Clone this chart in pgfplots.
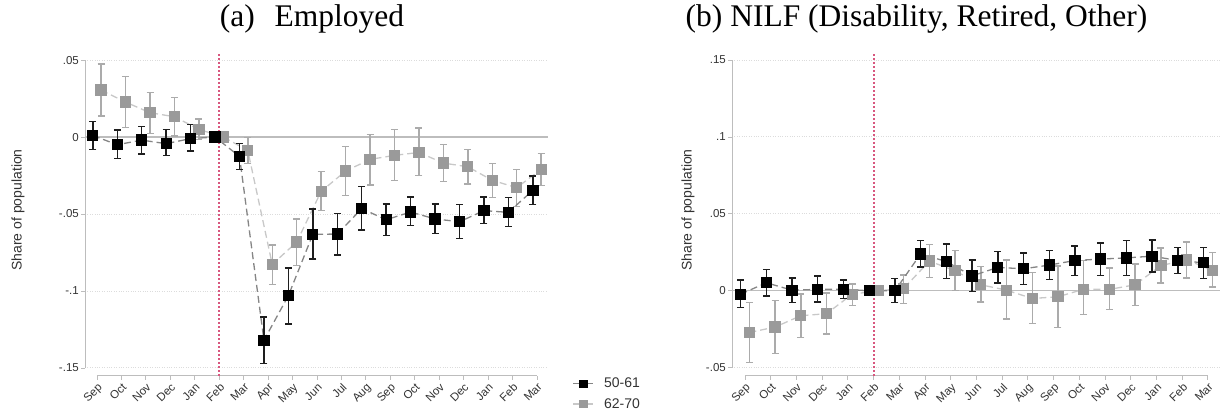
\documentclass[border=0pt]{standalone}
\usepackage{pgfplots}
\pgfplotsset{compat=1.18}
\usepackage{pgfplotstable}
\usepackage{fontspec}
\setmainfont{Liberation Sans}
\newfontfamily\titlefont{Liberation Serif}
\definecolor{blkline}{HTML}{858585}
\definecolor{blkerr}{HTML}{1E1E1E}
\definecolor{grymark}{HTML}{9A9A9A}
\definecolor{gryline}{HTML}{C8C8C8}
\definecolor{gryerr}{HTML}{ABABAB}
\definecolor{axgray}{HTML}{BDBDBD}
\definecolor{gridgray}{HTML}{DCDCDC}
\definecolor{redline}{HTML}{D8577F}
\definecolor{txt}{HTML}{333333}
\tikzset{febline/.style={redline, line width=2pt, dash pattern=on 2pt off 2pt}}

% x y hi lo
\pgfplotstableread{
x y hi lo
0 0.001 0.010 -0.008
1 -0.005 0.0045 -0.014
2 -0.002 0.007 -0.011
3 -0.0043 0.005 -0.012
4 -0.001 0.008 -0.009
5 0 0 0
6 -0.0126 -0.004 -0.021
7 -0.132 -0.117 -0.147
8 -0.103 -0.085 -0.1214
9 -0.0632 -0.0468 -0.0792
10 -0.063 -0.0496 -0.0766
11 -0.0465 -0.0323 -0.0604
12 -0.0537 -0.0435 -0.0639
13 -0.0487 -0.039 -0.0576
14 -0.0532 -0.0435 -0.0628
15 -0.055 -0.044 -0.066
16 -0.0478 -0.039 -0.056
17 -0.0489 -0.0394 -0.058
18 -0.0346 -0.0253 -0.0439
}\empA
\pgfplotstableread{
x y hi lo
0 0.0305 0.0474 0.0136
1 0.0227 0.0392 0.0063
2 0.0158 0.029 0.0024
3 0.0132 0.0258 0.0006
4 0.005 0.0117 -0.0015
5 0 0 0
6 -0.0087 -0.0004 -0.0173
7 -0.0827 -0.07 -0.0959
8 -0.0682 -0.0532 -0.0833
9 -0.0353 -0.0225 -0.0476
10 -0.0221 -0.0061 -0.0381
11 -0.0145 0.0017 -0.0312
12 -0.0119 0.0048 -0.0284
13 -0.01 0.0058 -0.0251
14 -0.0169 -0.005 -0.029
15 -0.0193 -0.008 -0.0305
16 -0.0281 -0.0171 -0.0392
17 -0.0329 -0.021 -0.0452
18 -0.021 -0.0106 -0.0316
}\empB
\pgfplotstableread{
x y hi lo
0 -0.0022 0.0069 -0.011
1 0.0052 0.0139 -0.0035
2 0.0004 0.0082 -0.0076
3 0.0009 0.0095 -0.0074
4 0.001 0.0069 -0.005
5 0 0 0
6 0 0.0078 -0.0076
7 0.024 0.0325 0.0154
8 0.019 0.0305 0.0078
9 0.0097 0.0199 -0.0006
10 0.0152 0.0255 0.005
11 0.0143 0.0245 0.0041
12 0.0167 0.0262 0.0074
13 0.0197 0.029 0.01
14 0.0206 0.031 0.01
15 0.0214 0.0325 0.01
16 0.0225 0.033 0.0123
17 0.0197 0.0281 0.0113
18 0.0182 0.0281 0.008
}\nilfA
\pgfplotstableread{
x y hi lo
0 -0.0271 -0.0076 -0.0468
1 -0.0236 -0.0065 -0.0409
2 -0.0162 -0.0022 -0.0305
3 -0.0149 -0.0015 -0.0281
4 -0.0022 0.0043 -0.0097
5 0 0 0
6 0.0015 0.0102 -0.0082
7 0.0193 0.0299 0.0087
8 0.013 0.026 0
9 0.0039 0.0156 -0.0074
10 0.0004 0.02 -0.0184
11 -0.005 0.0119 -0.0214
12 -0.0039 0.016 -0.0238
13 0.001 0.0195 -0.0156
14 0.0009 0.0149 -0.0123
15 0.0039 0.0173 -0.0095
16 0.0164 0.0277 0.005
17 0.0201 0.0318 0.0084
18 0.0134 0.0249 0.0024
}\nilfB

\pgfplotsset{
  stataaxis/.style={
    scale only axis, axis line style={draw=none},
    xtick={0,...,18},
    xticklabels={Sep,Oct,Nov,Dec,Jan,Feb,Mar,Apr,May,Jun,Jul,Aug,Sep,Oct,Nov,Dec,Jan,Feb,Mar},
    xtick pos=left, ytick pos=left, tick align=outside,
    major tick length=4pt,
    tick style={axgray, line width=0.9pt},
    xticklabel style={rotate=45, anchor=north east, font=\fontsize{11.5}{12}\selectfont, text=txt, inner sep=1.5pt},
    yticklabel style={font=\fontsize{11.5}{12}\selectfont, text=txt, inner sep=2pt},
    ymajorgrids, major grid style={dotted, gridgray, line width=1pt},
    clip=false,
  },
  blk/.style={blkline, line width=1.3pt, dash pattern=on 7pt off 4pt,
    mark=square*, mark size=5pt, mark options={solid, fill=black, draw=black},
    error bars/y dir=both, error bars/y explicit,
    error bars/error bar style={solid, blkerr, line width=1.4pt},
    error bars/error mark options={solid, blkerr, line width=1.4pt, mark size=3.5pt, rotate=90}},
  gry/.style={gryline, line width=1.3pt, dash pattern=on 7pt off 4pt,
    mark=square*, mark size=5pt, mark options={solid, fill=grymark, draw=grymark},
    error bars/y dir=both, error bars/y explicit,
    error bars/error bar style={solid, gryerr, line width=1.4pt},
    error bars/error mark options={solid, gryerr, line width=1.4pt, mark size=3.5pt, rotate=90}},
}

\begin{document}
\begin{tikzpicture}
\useasboundingbox (0pt,0pt) rectangle (1225pt,411pt);

% ---------- Panel (a)
\begin{axis}[stataaxis, at={(85pt,35pt)}, anchor=south west,
  width=463pt, height=319pt,
  xmin=-0.49, xmax=18.45, ymin=-0.1552, ymax=0.052,
  ytick={-0.15,-0.1,-0.05,0,0.05},
  yticklabels={-.15,-.1,-.05,0,.05},
  legend style={at={(rel axis cs:1.053,0.0)}, anchor=north west, draw=none, fill=none,
    font=\fontsize{14}{16}\selectfont, text=txt, row sep=5pt, column sep=8pt, inner sep=0pt},
  legend cell align=left,
  legend image code/.code={\draw[mark repeat=2, mark phase=2, #1] plot coordinates {(0pt,0pt) (10pt,0pt) (20pt,0pt)};},
]
\draw[axgray, line width=1pt] (axis cs:-0.49,-0.15) -- (axis cs:-0.49,0.05);
\draw[axgray, line width=1pt] (axis cs:0,-0.1552) -- (axis cs:18,-0.1552);
\draw[axgray, line width=1.4pt] (axis cs:-0.49,0) -- (axis cs:18.45,0);
\draw[febline] (axis cs:5,-0.1552) -- ([yshift=5pt]axis cs:5,0.052);
\addplot[gry, forget plot] table[x expr=\thisrow{x}+0.17, y=y, y error plus expr=\thisrow{hi}-\thisrow{y}, y error minus expr=\thisrow{y}-\thisrow{lo}] {\empB};
\addplot[blk, forget plot] table[x expr=\thisrow{x}-0.17, y=y, y error plus expr=\thisrow{hi}-\thisrow{y}, y error minus expr=\thisrow{y}-\thisrow{lo}] {\empA};
\addlegendimage{solid, blkline, line width=1.3pt, mark=square*, mark options={fill=black, draw=black, mark size=3.5pt}}
\addlegendentry{50-61}
\addlegendimage{solid, gryline, line width=1.3pt, mark=square*, mark options={fill=grymark, draw=grymark, mark size=3.5pt}}
\addlegendentry{62-70}
\end{axis}

% ---------- Panel (b)
\begin{axis}[stataaxis, at={(732pt,35pt)}, anchor=south west,
  width=488pt, height=319pt,
  xmin=-0.505, xmax=18.47, ymin=-0.0554, ymax=0.152,
  ytick={-0.05,0,0.05,0.1,0.15},
  yticklabels={-.05,0,.05,.1,.15},
]
\draw[axgray, line width=1pt] (axis cs:-0.505,-0.05) -- (axis cs:-0.505,0.15);
\draw[axgray, line width=1pt] (axis cs:0,-0.0554) -- (axis cs:18,-0.0554);
\draw[axgray, line width=1.4pt] (axis cs:-0.505,0) -- (axis cs:18.47,0);
\draw[febline] (axis cs:5,-0.0554) -- ([yshift=5pt]axis cs:5,0.152);
\addplot[gry] table[x expr=\thisrow{x}+0.17, y=y, y error plus expr=\thisrow{hi}-\thisrow{y}, y error minus expr=\thisrow{y}-\thisrow{lo}] {\nilfB};
\addplot[blk] table[x expr=\thisrow{x}-0.17, y=y, y error plus expr=\thisrow{hi}-\thisrow{y}, y error minus expr=\thisrow{y}-\thisrow{lo}] {\nilfA};
\end{axis}

% titles and axis titles
\node[anchor=base, font=\titlefont\fontsize{31.5}{36}\selectfont] at (312pt,384pt) {(a)\hspace{20pt}Employed};
\node[anchor=base, font=\titlefont\fontsize{31.5}{36}\selectfont] at (916.5pt,384pt) {(b) NILF (Disability, Retired, Other)};
\node[rotate=90, font=\fontsize{14}{16}\selectfont, text=txt] at (18pt,201pt) {Share of population};
\node[rotate=90, font=\fontsize{14}{16}\selectfont, text=txt] at (688pt,201pt) {Share of population};
\end{tikzpicture}
\end{document}
